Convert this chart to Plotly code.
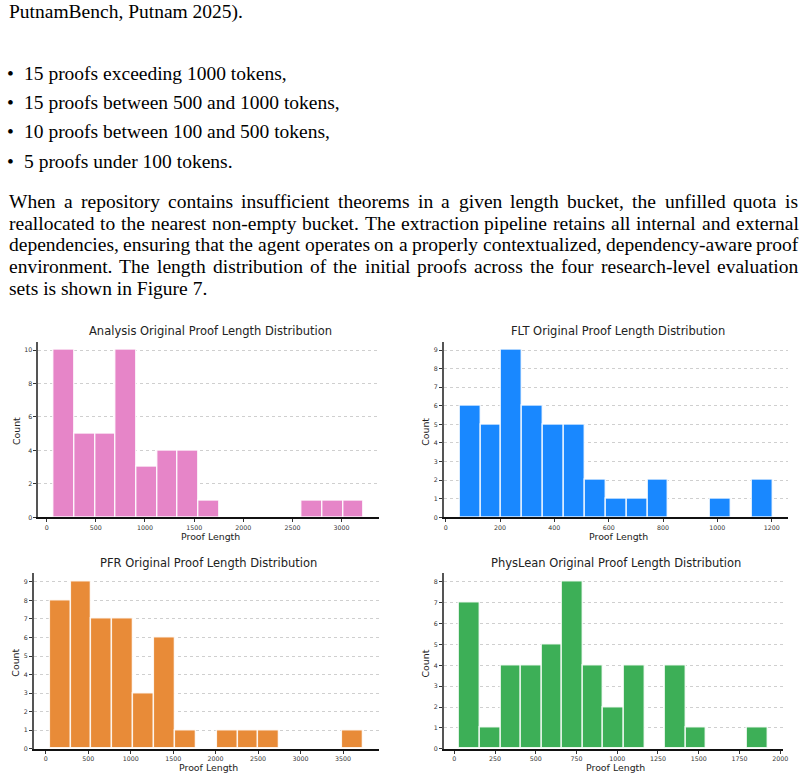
import plotly.graph_objects as go

W, H = 807, 782

# ── Data: 15 equal-width bins per evaluation set ─────────────────────────────
analysis_range = (74, 3226)
analysis_counts = [10, 5, 5, 10, 3, 4, 4, 1, 0, 0, 0, 0, 1, 1, 1]
analysis_xticks = [0, 500, 1000, 1500, 2000, 2500, 3000]
analysis_yticks = [0, 2, 4, 6, 8, 10]

flt_range = (51, 1204)
flt_counts = [6, 5, 9, 6, 5, 5, 2, 1, 1, 2, 0, 0, 1, 0, 2]
flt_xticks = [0, 200, 400, 600, 800, 1000, 1200]
flt_yticks = list(range(0, 10))

pfr_range = (47, 3735)
pfr_counts = [8, 9, 7, 7, 3, 6, 1, 0, 1, 1, 1, 0, 0, 0, 1]
pfr_xticks = [0, 500, 1000, 1500, 2000, 2500, 3000, 3500]
pfr_yticks = list(range(0, 10))

physlean_range = (31, 1925)
physlean_counts = [7, 1, 4, 4, 5, 8, 4, 2, 4, 0, 4, 1, 0, 0, 1]
physlean_xticks = [0, 250, 500, 750, 1000, 1250, 1500, 1750, 2000]
physlean_yticks = list(range(0, 9))

# ── Body text above the figure ───────────────────────────────────────────────
intro_line = "PutnamBench, Putnam 2025)."
bullets = [
    "15 proofs exceeding 1000 tokens,",
    "15 proofs between 500 and 1000 tokens,",
    "10 proofs between 100 and 500 tokens,",
    "5 proofs under 100 tokens.",
]
paragraph = [
    "When a repository contains insufficient theorems in a given length bucket, the unfilled quota is",
    "reallocated to the nearest non-empty bucket. The extraction pipeline retains all internal and external",
    "dependencies, ensuring that the agent operates on a properly contextualized, dependency-aware proof",
    "environment. The length distribution of the initial proofs across the four research-level evaluation",
    "sets is shown in Figure 7.",
]

# panel boxes in page pixels: left, right, top, bottom
panels = [
    ("Analysis", analysis_range, analysis_counts, analysis_xticks, analysis_yticks,
     "#e685c8", (38.7, 381.7, 343.0, 519.3)),
    ("FLT", flt_range, flt_counts, flt_xticks, flt_yticks,
     "#1988ff", (446.7, 793.3, 343.0, 519.3)),
    ("PFR", pfr_range, pfr_counts, pfr_xticks, pfr_yticks,
     "#e88b38", (34.3, 381.0, 575.7, 751.7)),
    ("PhysLean", physlean_range, physlean_counts, physlean_xticks, physlean_yticks,
     "#3daf57", (446.7, 788.3, 575.7, 751.7)),
]

# Times-Roman advance widths (per 1000 em), used to justify paragraph lines
_TIMES = {" ": 250, ",": 250, ".": 250, "-": 333, "(": 333, ")": 333, ":": 278}
_TIMES.update({d: 500 for d in "0123456789"})
_TIMES.update(dict(zip("ABCDEFGHIJKLMNOPQRSTUVWXYZ",
                       [722, 667, 667, 722, 611, 556, 722, 722, 333, 389, 722, 611, 889,
                        722, 722, 556, 722, 667, 556, 611, 722, 722, 944, 722, 722, 611])))
_TIMES.update(dict(zip("abcdefghijklmnopqrstuvwxyz",
                       [444, 500, 444, 500, 444, 333, 500, 500, 278, 278, 500, 278, 778,
                        500, 500, 500, 500, 333, 389, 278, 500, 500, 722, 500, 500, 444])))


def px_x(x):
    return x / W


def px_y(y):
    return 1 - y / H


fig = go.Figure()
annotations = []

for i, (name, (lo, hi), counts, xticks, yticks, color, box) in enumerate(panels, start=1):
    n = len(counts)
    bw = (hi - lo) / n
    centers = [lo + (k + 0.5) * bw for k in range(n)]
    left, right, top, bottom = box
    suffix = "" if i == 1 else str(i)

    fig.add_trace(go.Bar(
        x=centers, y=counts, width=bw,
        marker=dict(color=color, line=dict(color="rgba(255,255,255,0.85)", width=1.4)),
        xaxis=f"x{suffix}", yaxis=f"y{suffix}",
        showlegend=False, hovertemplate="%{y}<extra></extra>",
    ))

    span = hi - lo
    axis_font = dict(family="DejaVu Sans", size=6.3, color="#333333")
    fig.update_layout({
        f"xaxis{suffix}": dict(
            domain=[px_x(left), px_x(right)],
            anchor=f"y{suffix}",
            range=[lo - 0.05 * span, hi + 0.05 * span],
            tickvals=xticks, ticks="outside", ticklen=3, tickwidth=0.8,
            tickcolor="#333333", tickfont=axis_font,
            showline=True, linecolor="#111111", linewidth=1.5,
            showgrid=False, zeroline=False,
        ),
        f"yaxis{suffix}": dict(
            domain=[px_y(bottom), px_y(top)],
            anchor=f"x{suffix}",
            range=[0, 1.05 * max(counts)],
            tickvals=yticks, ticks="outside", ticklen=3, tickwidth=0.8,
            tickcolor="#333333", tickfont=axis_font,
            showline=True, linecolor="#555555", linewidth=2,
            showgrid=True, gridcolor="#cfcfcf", griddash="dot", gridwidth=0.8,
            zeroline=False,
        ),
    })

    cx = (left + right) / 2
    annotations.append(dict(
        text=f"{name} Original Proof Length Distribution",
        x=px_x(cx + 2), y=px_y(top - 11), xref="paper", yref="paper",
        xanchor="center", yanchor="middle", showarrow=False,
        font=dict(family="DejaVu Sans", size=11.5, color="#222222"),
    ))
    annotations.append(dict(
        text="Proof Length",
        x=px_x(cx + 2), y=px_y(bottom + 19), xref="paper", yref="paper",
        xanchor="center", yanchor="middle", showarrow=False,
        font=dict(family="DejaVu Sans", size=9.4, color="#222222"),
    ))
    count_dx = 22 if max(yticks) >= 10 else 18.7
    annotations.append(dict(
        text="Count", textangle=-90,
        x=px_x(left - count_dx), y=px_y((top + bottom) / 2 + 2), xref="paper", yref="paper",
        xanchor="center", yanchor="middle", showarrow=False,
        font=dict(family="DejaVu Sans", size=9.4, color="#222222"),
    ))

FS = 19.5
body_font = dict(family="Liberation Serif", size=FS, color="#000000")


def text_line(txt, x, y):
    return dict(text=txt, x=px_x(x), y=px_y(y), xref="paper", yref="paper",
                xanchor="left", yanchor="middle", showarrow=False, font=body_font)


def word_width(word):
    return sum(_TIMES.get(ch, 500) for ch in word) / 1000 * FS


def justified_line(txt, x0, x1, y):
    """Spread the words of one line evenly between x0 and x1."""
    words = txt.split(" ")
    widths = [word_width(w) for w in words]
    gap = (x1 - x0 - sum(widths)) / (len(words) - 1)
    out, x = [], x0
    for w, ww in zip(words, widths):
        out.append(text_line(w, x, y))
        x += ww + gap
    return out


annotations.append(text_line(intro_line, 7, 12))
for k, b in enumerate(bullets):
    y = 73.5 + k * 29.4
    annotations.append(text_line("•", 5, y))
    annotations.append(text_line(b, 22, y))
for k, line in enumerate(paragraph):
    y = 202.5 + k * 21.7
    if k < len(paragraph) - 1:
        annotations.extend(justified_line(line, 7, 801, y))
    else:
        annotations.append(text_line(line, 7, y))

fig.update_layout(
    width=W, height=H,
    margin=dict(l=0, r=0, t=0, b=0),
    paper_bgcolor="white", plot_bgcolor="white",
    bargap=0,
    annotations=annotations,
)

fig.write_html("out.html", config={"displayModeBar": False},
               post_script="document.body.style.margin='0';")
